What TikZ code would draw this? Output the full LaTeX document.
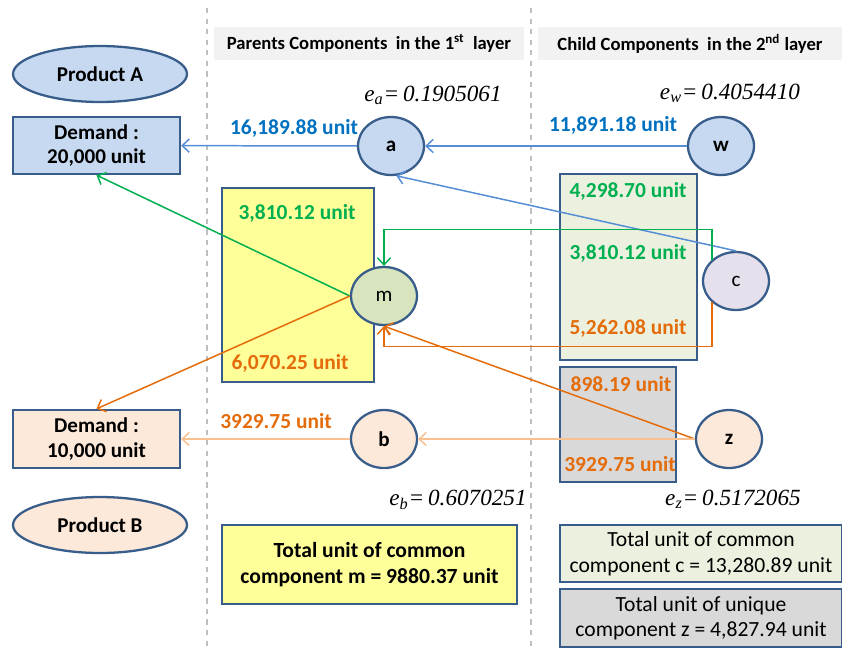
\documentclass[tikz,border=0pt]{standalone}
\usepackage{fontspec}
\setmainfont{Carlito}
\newfontfamily\eqfont{Liberation Serif}
\usetikzlibrary{shapes.geometric,arrows.meta}
\definecolor{rim}{HTML}{385D8A}
\definecolor{fillblue}{HTML}{C6D9F1}
\definecolor{fillpeach}{HTML}{FDE9D9}
\definecolor{fillyellow}{HTML}{FFFF99}
\definecolor{fillgreen}{HTML}{EBF1DE}
\definecolor{fillolive}{HTML}{D7E4BD}
\definecolor{filllav}{HTML}{E6E0EC}
\definecolor{fillgray}{HTML}{D9D9D9}
\definecolor{hdrgray}{HTML}{F2F2F2}
\definecolor{txtblue}{HTML}{0070C0}
\definecolor{txtgreen}{HTML}{00B050}
\definecolor{txtorange}{HTML}{E46C0A}
\definecolor{lnblue}{HTML}{558ED5}
\definecolor{lnpeach}{HTML}{FAC090}
\tikzset{box/.style={draw=rim,line width=1.3pt,rectangle,inner sep=0pt,align=center},
prod/.style={draw=rim,line width=1.3pt,ellipse,minimum width=3.48cm,minimum height=1.12cm,inner sep=0pt,font=\fontsize{12}{14}\selectfont\bfseries},
comp/.style={draw=rim,line width=1.3pt,ellipse,minimum width=1.32cm,minimum height=1.16cm,inner sep=0pt,font=\fontsize{12}{14}\selectfont},
qty/.style={inner sep=0pt,font=\fontsize{12.2}{14}\selectfont\bfseries},
eqn/.style={inner sep=0pt,font=\fontsize{13.2}{15}\selectfont\eqfont\itshape},
hdr/.style={fill=hdrgray,inner sep=0pt,minimum height=0.66cm,font=\fontsize{10.6}{12}\selectfont\bfseries},
flow/.style={-{Straight Barb[length=4pt,width=7.5pt]},line width=0.85pt}}

\begin{document}
\begin{tikzpicture}[x=0.02cm,y=-0.02cm]
\useasboundingbox (0,0) rectangle (842,650);
\draw[gray!50,dashed,line width=0.8pt] (207,8) -- (207,650);
\draw[gray!50,dashed,line width=0.8pt] (531,8) -- (531,650);
\node[hdr,minimum width=6.2cm] (hp) at (369,43.5) {Parents Components\ \ in the 1\textsuperscript{st}\ \ layer};
\node[hdr,minimum width=6.08cm] (hc) at (690,43.5) {Child Components\ \ in the 2\textsuperscript{nd} layer};
\node[prod,fill=fillblue] (pA) at (100,74) {Product A};
\node[prod,fill=fillpeach] (pB) at (100,525) {Product B};
\node[box,fill=fillblue,minimum width=3.34cm,minimum height=1.14cm,font=\fontsize{12}{13.8}\selectfont\bfseries] (dA) at (96.5,145.5) {Demand :\\20,000 unit};
\node[box,fill=fillpeach,minimum width=3.34cm,minimum height=1.16cm,font=\fontsize{12}{13.8}\selectfont\bfseries] (dB) at (96.5,439) {Demand :\\10,000 unit};
% stock boxes
\node[box,fill=fillyellow,minimum width=3.04cm,minimum height=3.88cm] (ym) at (298,285) {};
\node[box,fill=fillgreen,minimum width=2.74cm,minimum height=3.72cm] (gc) at (628.5,267) {};
\node[box,fill=fillgray,minimum width=2.32cm,minimum height=2.3cm] (gz) at (618,424.5) {};
% totals
\node[box,fill=fillyellow,minimum width=5.9cm,minimum height=1.58cm,font=\fontsize{12.3}{15}\selectfont\bfseries] (tm) at (369.5,564.5) {Total unit of common\\component m = 9880.37 unit};
\node[box,fill=fillgreen,minimum width=5.64cm,minimum height=1.14cm,font=\fontsize{12.3}{14.5}\selectfont] (tc) at (701,553.5) {Total unit of common\\component c = 13,280.89 unit};
\node[box,fill=fillgray,minimum width=5.64cm,minimum height=1.16cm,font=\fontsize{12.3}{14.5}\selectfont] (tz) at (701,618) {Total unit of unique\\component z = 4,827.94 unit};
% components
\node[comp,fill=fillblue,font=\fontsize{12}{14}\selectfont\bfseries] (a) at (391,146) {a};
\node[comp,fill=fillblue,font=\fontsize{12}{14}\selectfont\bfseries] (w) at (721,146) {w};
\node[comp,fill=fillolive] (m) at (384,296) {m};
\node[comp,fill=filllav] (c) at (736,281) {c};
\node[comp,fill=fillpeach,font=\fontsize{12}{14}\selectfont\bfseries] (b) at (384,439) {b};
\node[comp,fill=fillpeach,font=\fontsize{12}{14}\selectfont\bfseries] (z) at (729,439) {z};
% flows
\path[flow,lnblue] (a) edge (dA);
\path[flow,lnblue] (w) edge (a);
\path[flow,lnblue] (c.north) edge (a.-80);
\draw[flow,txtgreen] (c.north west) -- ++(0,-30) -| (m.north);
\draw[flow,txtorange] (c.south west) -- ++(0,44) -| (m.south);
\path[flow,txtorange] (z.west) edge (m.south);
\path[flow,txtgreen] (m.west) edge (dA.south);
\path[flow,txtorange] (m.west) edge (dB.north);
\path[flow,lnpeach] (z) edge (b);
\path[flow,lnpeach] (b) edge (dB);
% quantities
\node[qty,txtblue] (qa) at (294,128) {16,189.88 unit};
\node[qty,txtblue] (qw) at (613,125) {11,891.18 unit};
\node[qty,txtorange] (qb) at (276,421) {3929.75 unit};
\node[qty,txtgreen] (qm1) at (297,213) {3,810.12 unit};
\node[qty,txtorange] (qm2) at (290,363) {6,070.25 unit};
\node[qty,txtgreen] (qc1) at (628,191) {4,298.70 unit};
\node[qty,txtgreen] (qc2) at (628,253) {3,810.12 unit};
\node[qty,txtorange] (qc3) at (628,328) {5,262.08 unit};
\node[qty,txtorange] (qz1) at (621,384) {898.19 unit};
\node[qty,txtorange] (qz2) at (620,464) {3929.75 unit};
% coefficients
\node[eqn] (ea) at (433,95) {e\textsubscript{a}=\,0.1905061};
\node[eqn] (ew) at (730,93) {e\textsubscript{w}=\,0.4054410};
\node[eqn] (eb) at (458,500) {e\textsubscript{b}=\,0.6070251};
\node[eqn] (ez) at (733,499) {e\textsubscript{z}=\,0.5172065};
\end{tikzpicture}
\end{document}
